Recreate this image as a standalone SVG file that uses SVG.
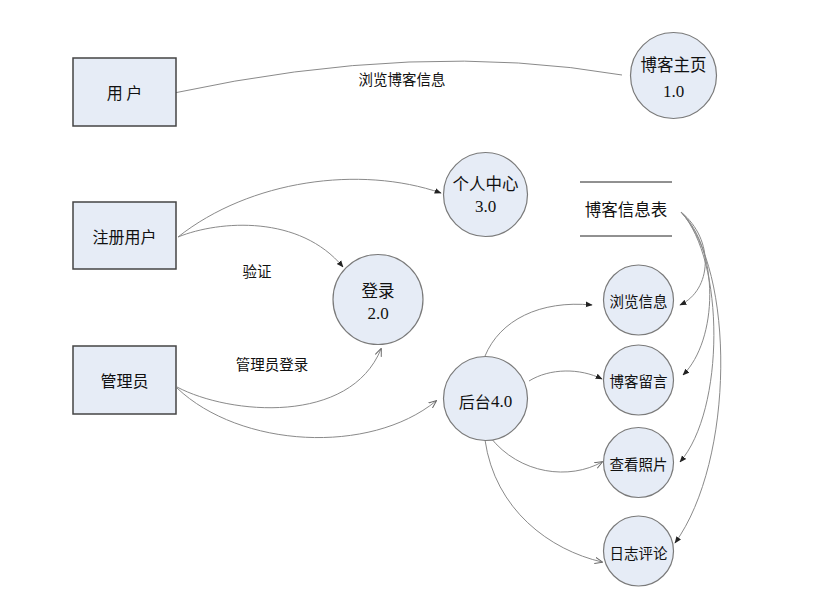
<svg xmlns="http://www.w3.org/2000/svg" width="839" height="612" viewBox="0 0 839 612">
<style>
.ent{fill:#e6ecf6;stroke:#444;stroke-width:1.5}
.proc{fill:#e6ecf6;stroke:#7a7a7a;stroke-width:1.2}
.cn{fill:none;stroke:#8a8a8a;stroke-width:1}
.zh{font-family:"Noto Sans CJK SC","Noto Sans",sans-serif;fill:#111}
.num{font-family:"Liberation Serif",serif;fill:#111}
.ds{stroke:#222;stroke-width:1}
</style>
<defs>
<marker id="af" viewBox="0 0 10 10" refX="9" refY="5" markerWidth="7" markerHeight="7" orient="auto" markerUnits="userSpaceOnUse"><path d="M0,1 L10,5 L0,9 z" fill="#222"/></marker>
<marker id="ao" viewBox="0 0 10 10" refX="9" refY="5" markerWidth="8" markerHeight="8" orient="auto" markerUnits="userSpaceOnUse"><path d="M0,1 L10,5 L0,9" fill="none" stroke="#666" stroke-width="1.2"/></marker>
</defs>
<rect width="839" height="612" fill="#fff"/>
<g id="connectors">
<path class="cn" d="M174,93 Q420,40 622,75"/>
<path class="cn" d="M178,237 C250,180 360,165 441,193" marker-end="url(#af)"/>
<path class="cn" d="M178,237 C220,220 300,215 343,267" marker-end="url(#af)"/>
<path class="cn" d="M177,387 C230,415 350,425 381,349" marker-end="url(#ao)"/>
<path class="cn" d="M177,388 C240,448 370,455 436,401" marker-end="url(#ao)"/>
<path class="cn" d="M485,356 C500,320 540,300 592,305" marker-end="url(#af)"/>
<path class="cn" d="M529,381 C550,368 580,368 602,379" marker-end="url(#af)"/>
<path class="cn" d="M490,437 C520,475 570,480 602,462" marker-end="url(#ao)"/>
<path class="cn" d="M485,440 C495,510 550,550 602,562" marker-end="url(#ao)"/>
<path class="cn" d="M681,212 C715,240 712,290 680,305" marker-end="url(#af)"/>
<path class="cn" d="M681,212 C720,250 718,340 683,375" marker-end="url(#af)"/>
<path class="cn" d="M681,212 C725,260 725,410 680,462" marker-end="url(#af)"/>
<path class="cn" d="M681,212 C735,270 735,460 675,543" marker-end="url(#af)"/>
</g>
<g id="labels">
<text class="zh" x="402" y="78" font-size="14.5" text-anchor="middle" dominant-baseline="central">浏览博客信息</text>
<text class="zh" x="257" y="270" font-size="14.5" text-anchor="middle" dominant-baseline="central">验证</text>
<text class="zh" x="272" y="363" font-size="14.5" text-anchor="middle" dominant-baseline="central">管理员登录</text>
</g>
<g id="user">
<rect class="ent" x="73" y="58" width="103" height="68"/>
<text class="zh" x="124.5" y="92" font-size="16" text-anchor="middle" dominant-baseline="central">用 户</text>
</g>
<g id="reguser">
<rect class="ent" x="73" y="202" width="103" height="67"/>
<text class="zh" x="124.5" y="236" font-size="16" text-anchor="middle" dominant-baseline="central">注册用户</text>
</g>
<g id="admin">
<rect class="ent" x="73" y="346" width="103" height="68"/>
<text class="zh" x="124.5" y="380" font-size="16" text-anchor="middle" dominant-baseline="central">管理员</text>
</g>
<g id="home">
<circle class="proc" cx="673.5" cy="75.5" r="43"/>
<text class="zh" x="673.5" y="64" font-size="16.5" text-anchor="middle" dominant-baseline="central">博客主页</text>
<text class="num" x="673.5" y="91" font-size="17" text-anchor="middle" dominant-baseline="central">1.0</text>
</g>
<g id="center">
<circle class="proc" cx="485.5" cy="194.5" r="42"/>
<text class="zh" x="485.5" y="183" font-size="16.5" text-anchor="middle" dominant-baseline="central">个人中心</text>
<text class="num" x="485.5" y="206" font-size="17" text-anchor="middle" dominant-baseline="central">3.0</text>
</g>
<g id="login">
<circle class="proc" cx="378" cy="299.5" r="45"/>
<text class="zh" x="378" y="290" font-size="16.5" text-anchor="middle" dominant-baseline="central">登录</text>
<text class="num" x="378" y="313" font-size="17" text-anchor="middle" dominant-baseline="central">2.0</text>
</g>
<g id="backend">
<circle class="proc" cx="485.5" cy="398.5" r="42"/>
<text x="485.5" y="401" text-anchor="middle" dominant-baseline="central"><tspan class="zh" font-size="16">后台</tspan><tspan class="num" font-size="17">4.0</tspan></text>
</g>
<g id="blogtable">
<line class="ds" x1="580" y1="182" x2="672" y2="182"/>
<line class="ds" x1="580" y1="236" x2="672" y2="236"/>
<text class="zh" x="626" y="209" font-size="16.5" text-anchor="middle" dominant-baseline="central">博客信息表</text>
</g>
<g id="browse">
<circle class="proc" cx="638.5" cy="300" r="35"/>
<text class="zh" x="638.5" y="300" font-size="14.5" text-anchor="middle" dominant-baseline="central">浏览信息</text>
</g>
<g id="message">
<circle class="proc" cx="638.5" cy="380" r="35"/>
<text class="zh" x="638.5" y="380" font-size="14.5" text-anchor="middle" dominant-baseline="central">博客留言</text>
</g>
<g id="photos">
<circle class="proc" cx="638.5" cy="462.5" r="35"/>
<text class="zh" x="638.5" y="463" font-size="14.5" text-anchor="middle" dominant-baseline="central">查看照片</text>
</g>
<g id="comments">
<circle class="proc" cx="638.5" cy="551" r="35"/>
<text class="zh" x="638.5" y="552" font-size="14.5" text-anchor="middle" dominant-baseline="central">日志评论</text>
</g>
</svg>
